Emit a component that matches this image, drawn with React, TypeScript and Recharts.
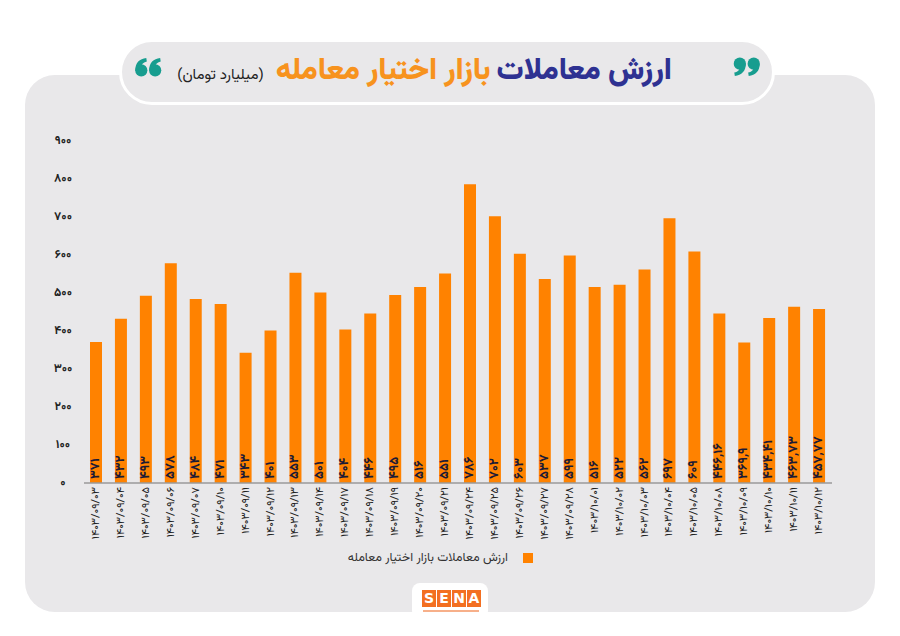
import * as React from "react";
import { BarChart, Bar, XAxis, YAxis, LabelList } from "recharts";

// dates (Jalali) shown under each bar
const categories = [
  "۱۴۰۳/۰۹/۰۳", "۱۴۰۳/۰۹/۰۴", "۱۴۰۳/۰۹/۰۵", "۱۴۰۳/۰۹/۰۶", "۱۴۰۳/۰۹/۰۷",
  "۱۴۰۳/۰۹/۱۰", "۱۴۰۳/۰۹/۱۱", "۱۴۰۳/۰۹/۱۲", "۱۴۰۳/۰۹/۱۳", "۱۴۰۳/۰۹/۱۴",
  "۱۴۰۳/۰۹/۱۷", "۱۴۰۳/۰۹/۱۸", "۱۴۰۳/۰۹/۱۹", "۱۴۰۳/۰۹/۲۰", "۱۴۰۳/۰۹/۲۱",
  "۱۴۰۳/۰۹/۲۴", "۱۴۰۳/۰۹/۲۵", "۱۴۰۳/۰۹/۲۶", "۱۴۰۳/۰۹/۲۷", "۱۴۰۳/۰۹/۲۸",
  "۱۴۰۳/۱۰/۰۱", "۱۴۰۳/۱۰/۰۲", "۱۴۰۳/۱۰/۰۳", "۱۴۰۳/۱۰/۰۴", "۱۴۰۳/۱۰/۰۵",
  "۱۴۰۳/۱۰/۰۸", "۱۴۰۳/۱۰/۰۹", "۱۴۰۳/۱۰/۱۰", "۱۴۰۳/۱۰/۱۱", "۱۴۰۳/۱۰/۱۲",
];

// billion toman
const values = [
  371, 432, 493, 578, 484, 471, 343, 401, 553, 501,
  404, 446, 495, 516, 551, 786, 702, 603, 537, 599,
  516, 522, 562, 697, 609, 446.16, 369.9, 434.41, 463.73, 457.77,
];

const yTicks = [0, 100, 200, 300, 400, 500, 600, 700, 800, 900];

const seriesName = "ارزش معاملات بازار اختیار معامله";

const FA = "'Vazirmatn', 'Noto Sans Arabic', 'DejaVu Sans', sans-serif";
const ORANGE = "#ff8200";
const PANEL = "#e9e8ea";
const TEAL = "#179d8f";

function toFa(v: unknown): string {
  const digits = "۰۱۲۳۴۵۶۷۸۹";
  return String(v)
    .replace(/\d/g, (d) => digits[Number(d)])
    .replace(".", ",");
}

function XTick(props: any) {
  const { x, y, payload } = props;
  const ty = y - 4;
  return (
    <text
      x={x}
      y={ty}
      transform={`rotate(-90, ${x}, ${ty})`}
      textAnchor="end"
      dominantBaseline="central"
      fontFamily={FA}
      fontSize={11}
      fill="#222"
    >
      {payload.value}
    </text>
  );
}

function YTick(props: any) {
  const { y, payload } = props;
  return (
    <text
      x={63}
      y={y}
      textAnchor="middle"
      dominantBaseline="central"
      fontFamily={FA}
      fontSize={12}
      fontWeight={700}
      fill="#222"
    >
      {toFa(payload.value)}
    </text>
  );
}

function BarValue(props: any) {
  const { x, y, width, height, value } = props;
  const cx = x + width / 2;
  const cy = y + height - 4;
  return (
    <text
      x={cx}
      y={cy}
      transform={`rotate(-90, ${cx}, ${cy})`}
      textAnchor="start"
      dominantBaseline="central"
      fontFamily={FA}
      fontSize={13}
      fontWeight={700}
      fill="#1c1a36"
    >
      {toFa(value)}
    </text>
  );
}

// one "6"-shaped comma; the closing mark is the same shape turned 180°
function Comma({ x }: { x: number }) {
  return (
    <g transform={`translate(${x},0)`}>
      <circle cx={5.5} cy={10} r={5.5} />
      <path d="M0.2,10 C0,3 4,0 10,-1 L10.5,2 C7,3 5,5 5.5,8 Z" />
    </g>
  );
}

function QuoteMark({ left, top, closing }: { left: number; top: number; closing?: boolean }) {
  return (
    <svg
      width={29}
      height={20}
      viewBox="0 -2 24 18"
      style={{ position: "absolute", left, top, transform: closing ? "rotate(180deg)" : undefined }}
      fill={TEAL}
    >
      <Comma x={0} />
      <Comma x={12.5} />
    </svg>
  );
}

export default function App() {
  const data = categories.map((c, i) => ({ date: c, value: values[i] }));

  return (
    <div
      style={{
        position: "absolute",
        left: 0,
        top: 0,
        width: 900,
        height: 636,
        background: "#fff",
        overflow: "hidden",
      }}
    >
      {/* background panel */}
      <div
        style={{
          position: "absolute",
          left: 25,
          top: 75,
          width: 850,
          height: 537,
          borderRadius: 30,
          background: PANEL,
        }}
      />

      {/* title pill */}
      <div
        style={{
          position: "absolute",
          left: 119,
          top: 39,
          width: 650,
          height: 60,
          borderRadius: 33,
          background: PANEL,
          border: "3px solid #fff",
        }}
      />
      <QuoteMark left={134} top={57} />
      <QuoteMark left={732} top={57} closing />
      <div
        style={{
          position: "absolute",
          right: 228,
          top: 48,
          display: "flex",
          direction: "rtl",
          alignItems: "baseline",
          fontFamily: FA,
          whiteSpace: "nowrap",
        }}
      >
        <span style={{ fontSize: 30, fontWeight: 900, color: "#2e3192" }}>ارزش معاملات</span>
        <span style={{ fontSize: 30, fontWeight: 900, color: "#f7931e", marginRight: 6 }}>
          بازار اختیار معامله
        </span>
        <span style={{ fontSize: 15, color: "#222", marginRight: 12 }}>(میلیارد تومان)</span>
      </div>

      <div style={{ position: "absolute", left: 0, top: 0 }}>
        <BarChart
          width={900}
          height={636}
          data={data}
          margin={{ top: 141, right: 68, bottom: 83, left: 44 }}
        >
          <YAxis
            width={40}
            domain={[0, 900]}
            ticks={yTicks}
            axisLine={false}
            tickLine={false}
            tick={<YTick />}
          />
          <XAxis
            dataKey="date"
            height={70}
            interval={0}
            tickLine={false}
            axisLine={{ stroke: "#9a9a9a", strokeWidth: 1.5 }}
            tick={<XTick />}
          />
          <Bar dataKey="value" name={seriesName} fill={ORANGE} barSize={12} isAnimationActive={false}>
            <LabelList dataKey="value" content={<BarValue />} />
          </Bar>
        </BarChart>
      </div>

      {/* legend */}
      <div
        style={{
          position: "absolute",
          right: 367,
          top: 548,
          display: "flex",
          alignItems: "center",
          gap: 15,
          fontFamily: FA,
          fontSize: 12.5,
          color: "#333",
        }}
      >
        <span style={{ direction: "rtl" }}>{seriesName}</span>
        <span style={{ width: 10, height: 10, background: ORANGE, display: "inline-block" }} />
      </div>

      {/* logo */}
      <div
        style={{
          position: "absolute",
          left: 412,
          top: 583,
          width: 76,
          height: 36,
          borderRadius: 8,
          background: "#fff",
        }}
      >
        <div
          style={{
            position: "absolute",
            left: 10,
            top: 7,
            display: "flex",
            gap: 1,
          }}
        >
          {["S", "E", "N", "A"].map((ch) => (
            <span
              key={ch}
              style={{
                background: "#f36f21",
                color: "#fff",
                fontFamily: "'DejaVu Sans', sans-serif",
                fontWeight: 700,
                fontSize: 14,
                lineHeight: "17px",
                width: 14,
                textAlign: "center",
              }}
            >
              {ch}
            </span>
          ))}
        </div>
        <div
          style={{
            position: "absolute",
            left: 11,
            top: 27,
            width: 56,
            height: 2,
            background: "#f7b08a",
          }}
        />
      </div>
    </div>
  );
}
